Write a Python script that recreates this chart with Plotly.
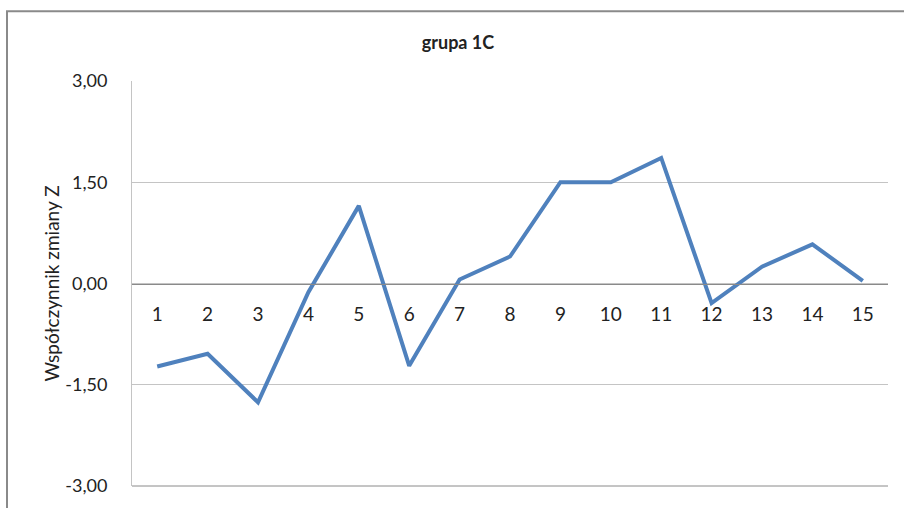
import plotly.graph_objects as go

# --- data ---
categories = [str(i) for i in range(1, 16)]
z_values = [-1.23, -1.04, -1.76, -0.13, 1.15, -1.22, 0.06, 0.40,
            1.50, 1.50, 1.86, -0.29, 0.25, 0.58, 0.04]
y_ticks = [-3.0, -1.5, 0.0, 1.5, 3.0]
y_ticktext = ["-3,00", "-1,50", "0,00", "1,50", "3,00"]

FONT = "Lato, 'Open Sans', sans-serif"
TEXT = "#222222"
LINE_BLUE = "#4f81bd"
GRID = "#c4c4c4"
AXIS = "#8a8a8a"

W, H = 904, 508
L, R, T, B = 132, 16, 81, 20
plot_w, plot_h = W - L - R, H - T - B

fig = go.Figure(
    go.Scatter(
        x=categories,
        y=z_values,
        mode="lines",
        line=dict(color=LINE_BLUE, width=4),
        showlegend=False,
    )
)

fig.update_layout(
    width=W,
    height=H,
    margin=dict(l=L, r=R, t=T, b=B),
    paper_bgcolor="white",
    plot_bgcolor="white",
    font=dict(family=FONT, color=TEXT),
    title=dict(
        text="<b>grupa 1C</b>",
        x=458 / W,
        xanchor="center",
        y=1 - 43 / H,
        yanchor="middle",
        font=dict(size=18, color=TEXT, family=FONT),
    ),
    xaxis=dict(
        type="category",
        range=[-0.5, 14.5],
        anchor="free",
        position=0.5,
        showgrid=False,
        zeroline=False,
        showline=True,
        linecolor=AXIS,
        linewidth=1,
        ticks="outside",
        ticklen=14,
        tickcolor="rgba(0,0,0,0)",
        tickfont=dict(size=19, color=TEXT),
    ),
    yaxis=dict(
        range=[-3, 3],
        tickmode="array",
        tickvals=y_ticks,
        ticktext=y_ticktext,
        showgrid=True,
        gridcolor=GRID,
        gridwidth=1,
        zeroline=False,
        showline=True,
        linecolor=GRID,
        ticks="",
        ticklabelstandoff=20,
        tickfont=dict(size=18, color=TEXT),
        title=dict(text="Współczynnik zmiany Z", font=dict(size=19, color=TEXT), standoff=0),
    ),
    shapes=[
        # chart area frame (runs past the right and bottom edges of the image)
        dict(type="rect", xref="paper", yref="paper",
             x0=(7 - L) / plot_w, x1=1.05, y0=-0.2, y1=1 + (T - 11) / plot_h,
             line=dict(color=AXIS, width=2), layer="below"),
        # darker bottom edge of the plot area
        dict(type="line", xref="paper", yref="paper", x0=0, x1=1, y0=0, y1=0,
             line=dict(color=AXIS, width=1)),
    ],
)

fig.write_html(
    "out.html",
    config={"displayModeBar": False},
    post_script="document.body.style.margin='0';",
)
